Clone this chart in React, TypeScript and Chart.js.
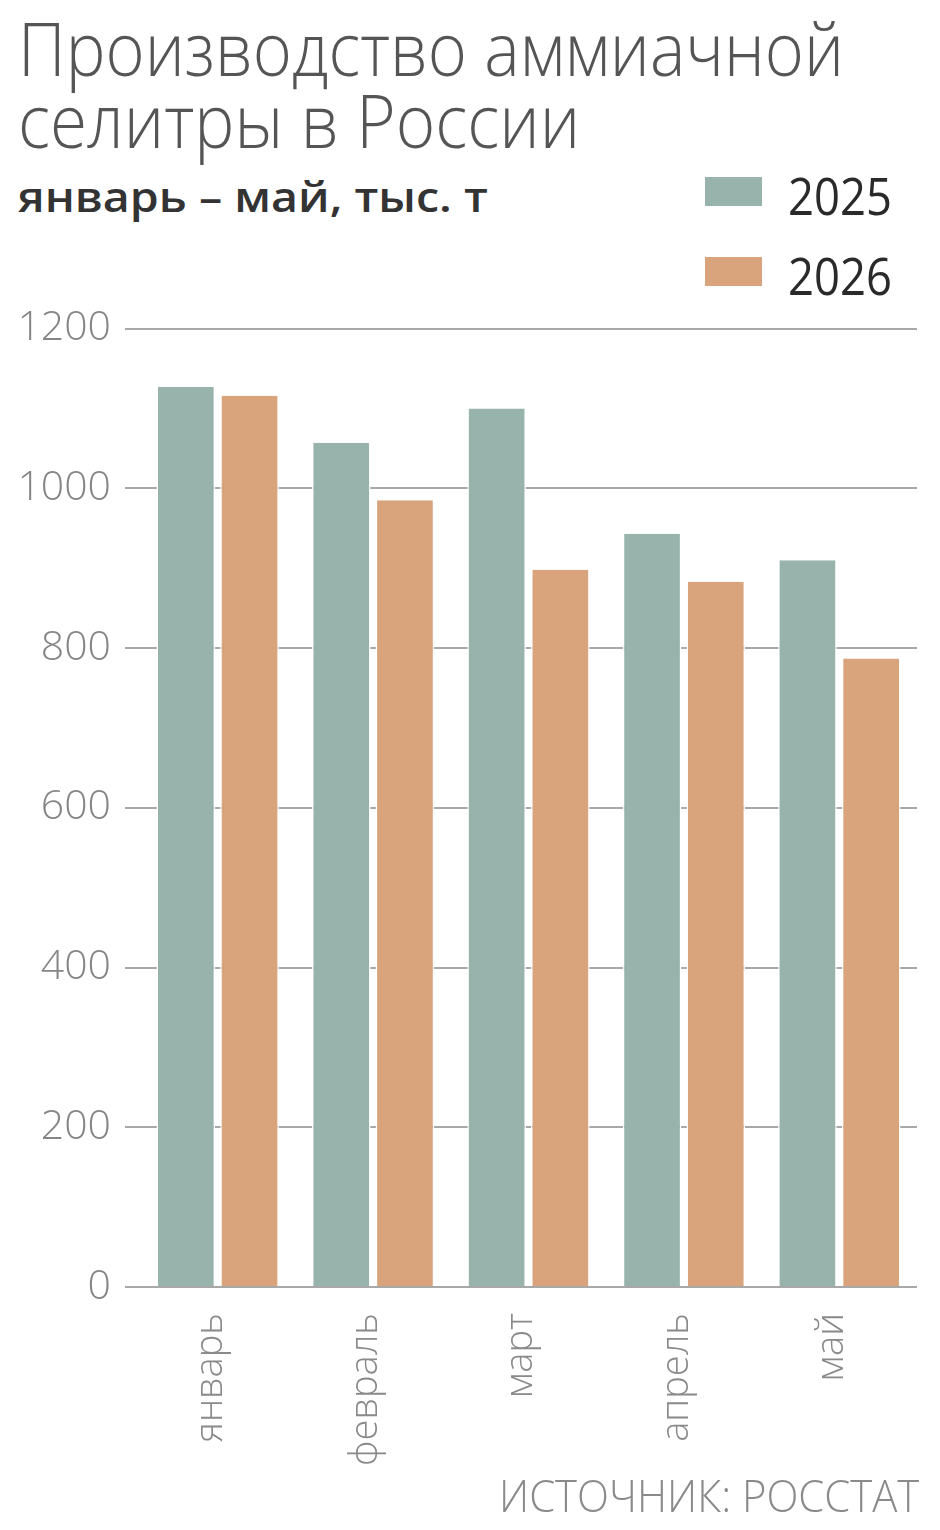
import React, { useEffect, useLayoutEffect, useRef, useState } from "react";
import { Chart, registerables } from "chart.js";

Chart.register(...registerables);

const months = ["январь", "февраль", "март", "апрель", "май"];
const series2025 = [1127, 1057, 1100, 943, 910];
const series2026 = [1116, 985, 898, 883, 787];
const yTicks = [0, 200, 400, 600, 800, 1000, 1200];
const legendLabels = ["2025", "2026"];
const colors = ["#98b3ab", "#d9a37b"];

const FONT = "'Open Sans', 'Noto Sans', Lato, sans-serif";

function FitText(props: {
  text: string;
  width: number;
  align?: "left" | "right";
  style: React.CSSProperties;
}) {
  const ref = useRef<HTMLSpanElement>(null);
  const [k, setK] = useState(1);
  useLayoutEffect(() => {
    const el = ref.current;
    if (!el) return;
    const w = el.offsetWidth;
    if (w > 0) setK(props.width / w);
  }, [props.text, props.width]);
  return (
    <span
      ref={ref}
      style={{
        display: "inline-block",
        whiteSpace: "nowrap",
        transform: `scaleX(${k})`,
        transformOrigin: props.align === "right" ? "right top" : "left top",
        ...props.style,
      }}
    >
      {props.text}
    </span>
  );
}

const baselinePlugin = {
  id: "baselineOnTop",
  afterDatasetsDraw(chart: any) {
    const y = chart.scales.y;
    const { ctx, chartArea } = chart;
    const py = y.getPixelForValue(0);
    ctx.save();
    ctx.strokeStyle = "#a8a8a8";
    ctx.lineWidth = 2;
    ctx.beginPath();
    ctx.moveTo(chartArea.left - 15, py);
    ctx.lineTo(chartArea.right, py);
    ctx.stroke();
    ctx.restore();
  },
};

function BarChart() {
  const canvasRef = useRef<HTMLCanvasElement>(null);
  useEffect(() => {
    if (!canvasRef.current) return;
    const chart = new Chart(canvasRef.current, {
      type: "bar",
      data: {
        labels: months,
        datasets: [
          {
            label: legendLabels[0],
            data: series2025,
            backgroundColor: colors[0],
            borderColor: "#ffffff",
            borderWidth: { top: 0, left: 1.5, right: 1.5, bottom: 0 },
            barPercentage: 0.92,
            categoryPercentage: 0.82,
          },
          {
            label: legendLabels[1],
            data: series2026,
            backgroundColor: colors[1],
            borderColor: "#ffffff",
            borderWidth: { top: 0, left: 1.5, right: 1.5, bottom: 0 },
            barPercentage: 0.92,
            categoryPercentage: 0.82,
          },
        ],
      },
      options: {
        animation: false,
        responsive: true,
        maintainAspectRatio: false,
        layout: { padding: { top: 37, right: 15, bottom: 0, left: 0 } },
        plugins: {
          legend: { display: false },
          tooltip: { enabled: false },
        },
        scales: {
          x: {
            grid: { display: false, drawTicks: false },
            border: { display: false },
            ticks: {
              autoSkip: false,
              minRotation: 90,
              maxRotation: 90,
              padding: 26,
              labelOffset: -7,
              color: "#8a8a8a",
              font: { family: FONT, size: 38, weight: "300" as any },
            },
            afterFit: (scale: any) => {
              scale.height = 180;
            },
          },
          y: {
            min: 0,
            max: 1200,
            afterBuildTicks: (scale: any) => {
              scale.ticks = yTicks.map((v) => ({ value: v }));
            },
            grid: {
              color: "#a8a8a8",
              lineWidth: 2,
              drawTicks: true,
              tickLength: 15,
            },
            border: { display: false },
            ticks: {
              padding: 14,
              color: "#858585",
              font: { family: FONT, size: 41, weight: "300" as any },
              callback: (v: any) => String(v),
            },
            afterFit: (scale: any) => {
              scale.width = 132;
            },
          },
        },
      },
      plugins: [baselinePlugin],
    });
    return () => chart.destroy();
  }, []);
  return (
    <div style={{ position: "absolute", left: 0, top: 282, width: 924, height: 1177 }}>
      <canvas ref={canvasRef} />
    </div>
  );
}

export default function App() {
  return (
    <div
      style={{
        position: "relative",
        width: 924,
        height: 1514,
        background: "#ffffff",
        fontFamily: FONT,
        overflow: "hidden",
      }}
    >
      <div style={{ position: "absolute", left: 10, top: 3 }}>
        <FitText
          text="Производство аммиачной"
          width={826}
          style={{ fontSize: 74, lineHeight: "74px", fontWeight: 300, color: "#555555" }}
        />
      </div>
      <div style={{ position: "absolute", left: 10, top: 75 }}>
        <FitText
          text="селитры в России"
          width={562}
          style={{ fontSize: 74, lineHeight: "74px", fontWeight: 300, color: "#555555" }}
        />
      </div>
      <div style={{ position: "absolute", left: 10, top: 167 }}>
        <FitText
          text="январь – май, тыс. т"
          width={470}
          style={{ fontSize: 42, lineHeight: "42px", fontWeight: 600, color: "#333333" }}
        />
      </div>
      {legendLabels.map((lab, i) => (
        <React.Fragment key={lab}>
          <div
            style={{
              position: "absolute",
              left: 697,
              top: 169 + i * 80,
              width: 57,
              height: 29,
              background: colors[i],
            }}
          />
          <div style={{ position: "absolute", left: 780, top: 161 + i * 80 }}>
            <FitText
              text={lab}
              width={104}
              style={{ fontSize: 52, lineHeight: "52px", fontWeight: 400, color: "#2a2a2a" }}
            />
          </div>
        </React.Fragment>
      ))}
      <BarChart />
      <div style={{ position: "absolute", right: 13, top: 1465 }}>
        <FitText
          text="ИСТОЧНИК: РОССТАТ"
          width={420}
          align="right"
          style={{ fontSize: 44, lineHeight: "44px", fontWeight: 300, color: "#8a8a8a" }}
        />
      </div>
    </div>
  );
}
